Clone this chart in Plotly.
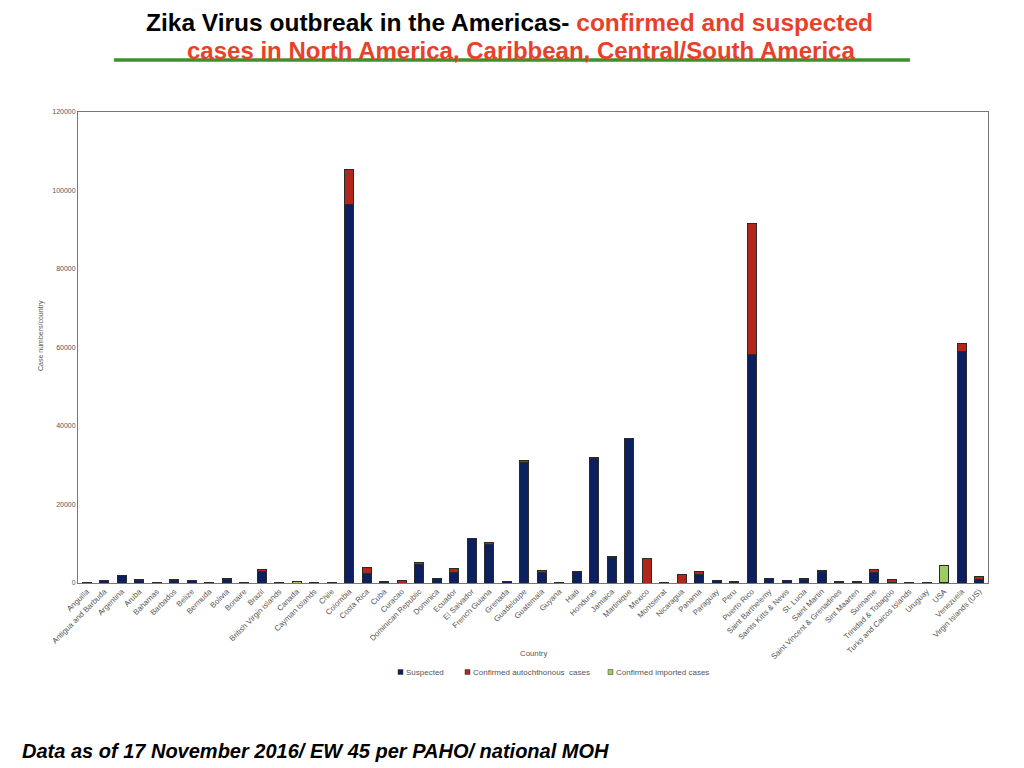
import plotly.graph_objects as go

countries = ["Anguilla", "Antigua and Barbuda", "Argentina", "Aruba", "Bahamas", "Barbados",
             "Belize", "Bermuda", "Bolivia", "Bonaire", "Brazil", "British Virgin islands",
             "Canada", "Cayman Islands", "Chile", "Colombia", "Costa Rica", "Cuba", "Curacao",
             "Dominican Republic", "Dominica", "Ecuador", "El Salvador", "French Guiana",
             "Grenada", "Guadeloupe", "Guatemala", "Guyana", "Haiti", "Honduras", "Jamaica",
             "Martinique", "Mexico", "Montserrat", "Nicaragua", "Panama", "Paraguay", "Peru",
             "Puerto Rico", "Saint Barthelemy", "Saints Kitts & Nevis", "St. Lucia",
             "Saint Martin", "Saint Vincent & Grenadines", "Sint Maarten", "Suriname",
             "Trinidad & Tobagoo", "Turks and Caicos Islands", "Uruguay", "USA", "Venezuela",
             "Virgin Islands (US)"]

suspected = [30, 600, 1800, 700, 150, 700,
             650, 0, 950, 150, 3000, 150,
             0, 200, 0, 96500, 2500, 0, 0,
             4800, 1150, 2600, 11400, 9700,
             400, 30700, 2800, 80, 3000, 31600, 6500,
             36700, 0, 50, 0, 2100, 650, 200,
             58300, 1150, 650, 900,
             3000, 250, 250, 2800,
             100, 200, 0, 0, 58900,
             800]

confirmed = [20, 30, 100, 80, 30, 100,
             50, 0, 150, 30, 350, 40,
             0, 30, 0, 8800, 1500, 200, 750,
             300, 80, 1100, 60, 600,
             100, 400, 450, 20, 20, 300, 150,
             100, 6300, 20, 2150, 750, 20, 100,
             33400, 40, 50, 150,
             120, 30, 30, 700,
             700, 30, 0, 140, 2200,
             800]

imported = [0, 0, 60, 0, 30, 0,
            0, 60, 20, 20, 30, 0,
            300, 0, 60, 0, 0, 60, 0,
            0, 0, 20, 0, 0,
            0, 0, 0, 0, 0, 0, 0,
            0, 0, 0, 0, 0, 10, 0,
            0, 0, 0, 0,
            0, 0, 0, 20,
            0, 0, 60, 4300, 0,
            0]

series_names = ["Suspected", "Confirmed autochthonous  cases", "Confirmed imported cases"]
series_colors = ["#0c1f5e", "#b3261b", "#9ccc62"]
series_values = [suspected, confirmed, imported]

# page is drawn with an 8px body offset; work in screen pixels and convert
OFF = 8
PLOT_L, PLOT_R, PLOT_T, PLOT_B = 78 - OFF, 988 - OFF, 112 - OFF, 583 - OFF
PW, PH = PLOT_R - PLOT_L, PLOT_B - PLOT_T


def px(x):
    return (x - OFF - PLOT_L) / PW


def py(y):
    return (PLOT_B - (y - OFF)) / PH


fig = go.Figure()
for name, vals, col in zip(series_names, series_values, series_colors):
    fig.add_trace(go.Bar(x=countries, y=vals, name=name,
                         marker=dict(color=col, line=dict(color="#2a2a2a", width=1))))

fig.update_layout(
    width=1024, height=768,
    barmode="stack", bargap=0.48,
    plot_bgcolor="white", paper_bgcolor="white",
    margin=dict(l=PLOT_L, r=1024 - PLOT_R, t=PLOT_T, b=768 - PLOT_B, autoexpand=False),
    font=dict(family="Liberation Sans, Arial, sans-serif", color="#555555", size=7),
    showlegend=False,
    xaxis=dict(tickangle=-45, showline=True, linecolor="#777777", linewidth=1, mirror=True,
               showgrid=False, tickfont=dict(size=7.8, color="#555555"), ticks="",
               automargin=False),
    yaxis=dict(range=[0, 120000], dtick=20000, tickformat="d", showline=True,
               linecolor="#777777", linewidth=1, mirror=True, showgrid=False,
               zeroline=False, ticks="", automargin=False,
               tickfont=dict(size=7, color="#555555")),
)

fig.add_annotation(text="Case numbers/country", xref="paper", yref="paper",
                   x=px(41), xanchor="center", y=py(336), yanchor="middle",
                   textangle=-90, showarrow=False, font=dict(size=7, color="#555555"))

# legend row (small square swatch + label)
legend_x = [398, 465, 608]
LEG_Y = 672
for name, col, lx in zip(series_names, series_colors, legend_x):
    fig.add_shape(type="rect", xref="paper", yref="paper",
                  x0=px(lx), x1=px(lx + 5), y0=py(LEG_Y + 2.5), y1=py(LEG_Y - 2.5),
                  fillcolor=col, line=dict(color="#333333", width=0.5))
    fig.add_annotation(text=name, xref="paper", yref="paper", x=px(lx + 5.5), xanchor="left",
                       y=py(LEG_Y), yanchor="middle", showarrow=False,
                       font=dict(size=8, color="#555555"))

fig.add_annotation(text="Country", xref="paper", yref="paper", x=0.5, y=py(653),
                   showarrow=False, font=dict(size=7.8, color="#555555"), yanchor="middle")

fig.add_annotation(
    text="<b>Zika Virus outbreak in the Americas- <span style='color:#e8412a'>confirmed and suspected</span></b>",
    xref="paper", yref="paper", x=px(509), xanchor="center", y=py(8), yanchor="top",
    borderpad=0, showarrow=False,
    font=dict(family="Liberation Sans, Arial", size=24.5, color="#000000"))
fig.add_annotation(
    text="<b>cases in North America, Caribbean, Central/South America</b>",
    xref="paper", yref="paper", x=px(521), xanchor="center", y=py(36), yanchor="top",
    borderpad=0, showarrow=False,
    font=dict(family="Liberation Sans, Arial", size=24, color="#e8412a"))

fig.add_shape(type="line", xref="paper", yref="paper",
              x0=px(114), x1=px(910), y0=py(60), y1=py(60),
              line=dict(color="#3f8f2c", width=3.5))

fig.add_annotation(
    text="<b><i>Data as of 17 November 2016/ EW 45 per PAHO/ national MOH</i></b>",
    xref="paper", yref="paper", x=px(20), xanchor="left",
    y=py(751), yanchor="middle", showarrow=False,
    font=dict(family="Liberation Sans, Arial", size=20, color="#000000"))

fig.write_html("out.html")
